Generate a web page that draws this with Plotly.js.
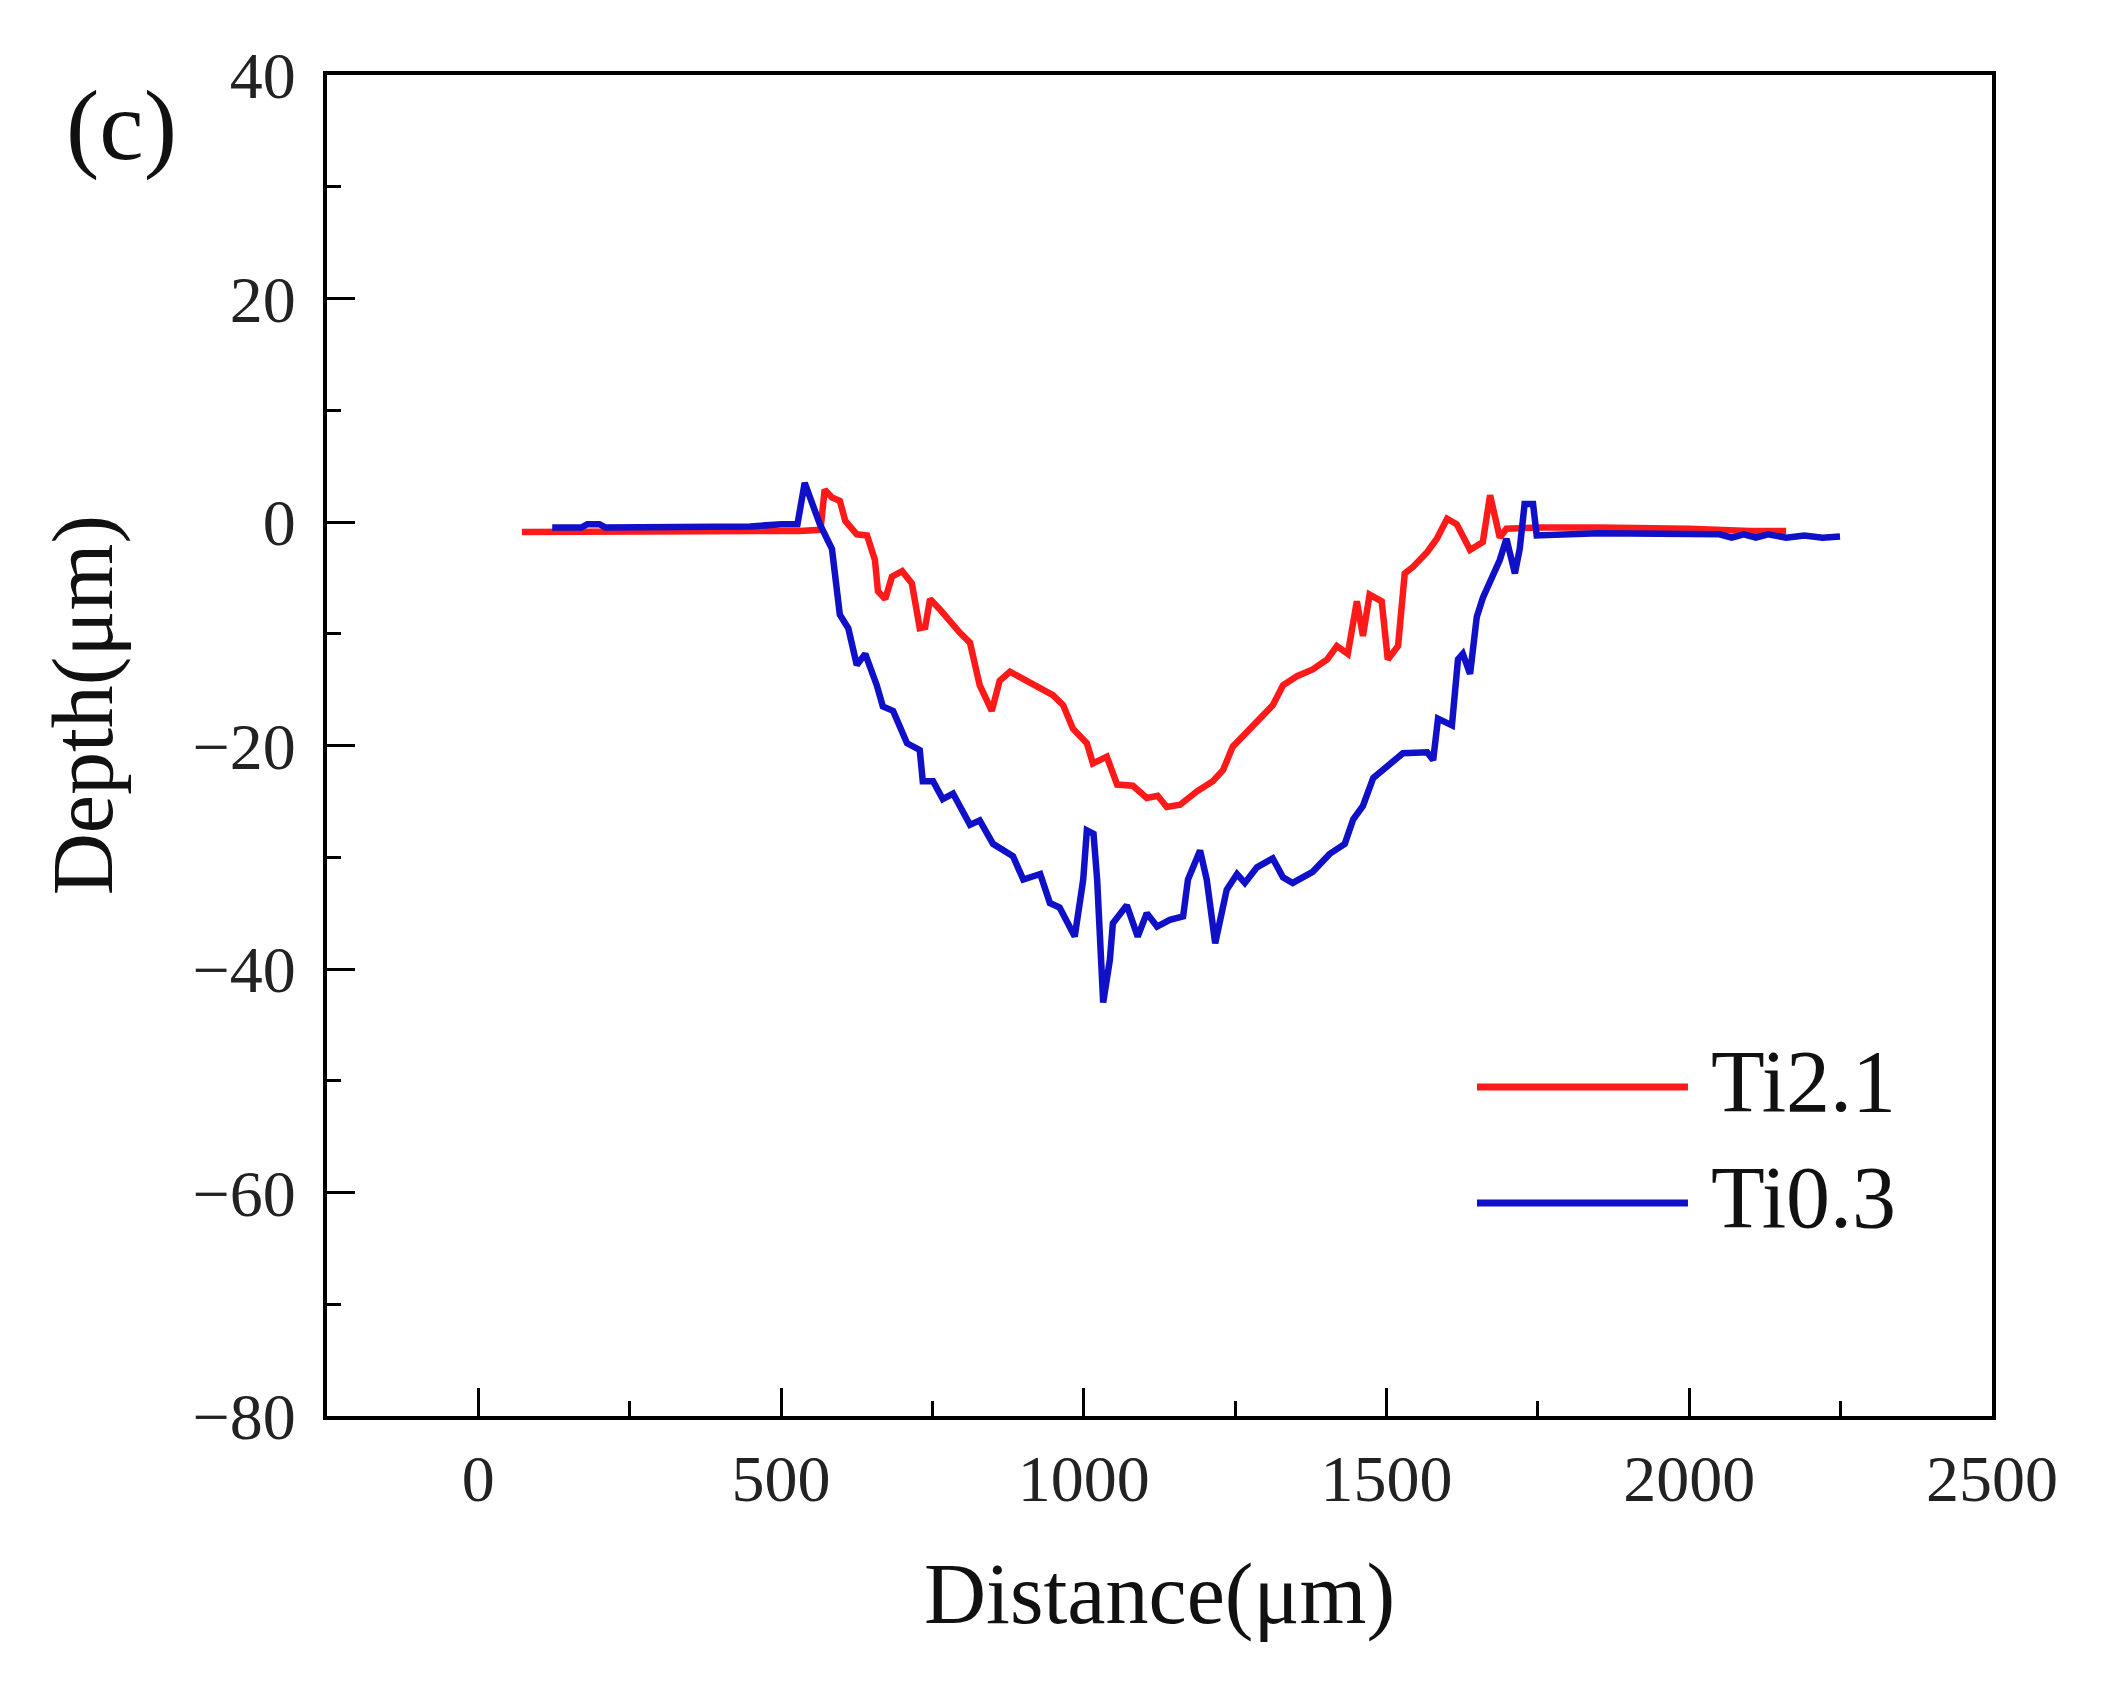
<!DOCTYPE html>
<html>
<head>
<meta charset="utf-8">
<script src="https://cdn.plot.ly/plotly-3.0.1.min.js"></script>
<style>
  html, body { margin: 0; padding: 0; background: #ffffff; }
  #chart { width: 2111px; height: 1697px; }
</style>
</head>
<body>
<div id="chart"></div>
<script>
// ---- Data ----
const seriesNames = ["Ti2.1", "Ti0.3"];
const seriesColors = ["#ff1a1a", "#1010c8"];

const ti21_x = [72,150,250,350,450,530,565,572,584,597,606,625,642,655,660,672,683,700,716,729,738,746,762,779,795,812,828,848,861,878,900,922,949,966,982,1005,1015,1038,1055,1081,1104,1122,1137,1159,1187,1213,1230,1246,1269,1291,1312,1329,1352,1378,1402,1418,1436,1451,1461,1472,1492,1502,1519,1530,1544,1567,1583,1600,1616,1638,1659,1671,1682,1687,1698,1750,1850,1950,2000,2100,2160];
const ti21_y = [-0.9,-0.9,-0.8,-0.8,-0.8,-0.8,-0.7,2.9,2.2,1.9,0.1,-1.1,-1.2,-3.4,-6.2,-6.9,-4.9,-4.4,-5.5,-9.5,-9.4,-6.9,-7.8,-9.0,-9.9,-10.8,-14.6,-16.9,-14.2,-13.4,-14.1,-14.8,-15.5,-16.4,-18.5,-19.8,-21.6,-21.0,-23.5,-23.6,-24.7,-24.5,-25.5,-25.3,-24.1,-23.2,-22.2,-20.1,-18.8,-17.6,-16.4,-14.6,-13.8,-13.2,-12.3,-11.1,-11.8,-7.1,-10.2,-6.5,-7.1,-12.3,-11.1,-4.6,-4.0,-2.7,-1.5,0.3,-0.2,-2.5,-1.8,2.4,0.1,-1.4,-0.6,-0.5,-0.5,-0.5,-0.6,-0.8,-0.8];

const ti03_x = [122,170,180,200,210,300,400,449,500,527,539,564,584,597,611,625,639,658,668,685,708,729,734,751,767,784,812,828,850,883,900,928,944,960,985,999,1005,1016,1022,1027,1032,1043,1048,1071,1089,1104,1121,1142,1164,1172,1192,1203,1217,1236,1253,1266,1286,1312,1329,1345,1378,1406,1431,1445,1461,1478,1506,1527,1567,1577,1585,1608,1618,1626,1638,1649,1659,1676,1687,1698,1712,1720,1728,1742,1748,1850,1950,2050,2070,2090,2110,2130,2160,2190,2220,2249];
const ti03_y = [-0.5,-0.5,-0.2,-0.2,-0.5,-0.5,-0.5,-0.4,-0.2,-0.2,3.5,-0.2,-2.4,-8.3,-9.5,-12.8,-11.8,-14.6,-16.5,-16.9,-19.8,-20.4,-23.2,-23.2,-24.8,-24.3,-27.1,-26.7,-28.8,-29.9,-32.0,-31.5,-34.1,-34.5,-37.1,-32.0,-27.6,-27.9,-32.0,-38.0,-43.0,-39.2,-35.9,-34.3,-37.1,-35.0,-36.2,-35.6,-35.3,-32.0,-29.4,-32.0,-37.7,-32.9,-31.5,-32.3,-30.9,-30.1,-31.8,-32.3,-31.3,-29.7,-28.8,-26.6,-25.4,-22.9,-21.6,-20.7,-20.6,-21.3,-17.6,-18.2,-12.3,-11.8,-13.6,-8.5,-6.8,-4.9,-3.4,-1.5,-4.6,-2.4,1.6,1.6,-1.2,-1.0,-1.0,-1.1,-1.4,-1.1,-1.4,-1.1,-1.4,-1.2,-1.4,-1.3];

const xTickVals = [0, 500, 1000, 1500, 2000, 2500];
const xTickText = ["0", "500", "1000", "1500", "2000", "2500"];
const yTickVals = [-80, -60, -40, -20, 0, 20, 40];
const yTickText = ["\u221280", "\u221260", "\u221240", "\u221220", "0", "20", "40"];
const xRange = [-250, 2500];
const yRange = [-80, 40];
const xTitle = "Distance(\u03bcm)";
const yTitle = "Depth(\u03bcm)";
const panelLabel = "(c)";

// ---- Build chart ----
const FONT = '"Liberation Serif", "Times New Roman", Times, serif';

const traces = [
  { x: ti21_x, y: ti21_y, name: seriesNames[0], mode: "lines", type: "scatter",
    line: { color: seriesColors[0], width: 6.5 } },
  { x: ti03_x, y: ti03_y, name: seriesNames[1], mode: "lines", type: "scatter",
    line: { color: seriesColors[1], width: 6.5 } }
];

// legend drawn as paper-referenced line samples + labels
const legendY = [0.2453, 0.1588];
const shapes = seriesNames.map((n, i) => ({
  type: "line", xref: "paper", yref: "paper",
  x0: 0.6907, x1: 0.8174, y0: legendY[i], y1: legendY[i],
  line: { color: seriesColors[i], width: 7 }
}));
const annotations = seriesNames.map((n, i) => ({
  text: n, xref: "paper", yref: "paper", x: 0.8300, y: legendY[i] + 0.004,
  xanchor: "left", yanchor: "middle", showarrow: false,
  font: { family: FONT, size: 88, color: "#111" }
}));
annotations.push({
  text: panelLabel, xref: "paper", yref: "paper", x: -0.1237, y: 0.9627,
  xanchor: "center", yanchor: "middle", showarrow: false,
  font: { family: FONT, size: 100, color: "#111" }
});
// y-axis title placed as in the reference (slightly above the plot centre)
annotations.push({
  text: yTitle, xref: "paper", yref: "paper", x: -0.1465, y: 0.530,
  xanchor: "center", yanchor: "middle", textangle: -90, showarrow: false,
  font: { family: FONT, size: 86, color: "#111" }
});

const axisCommon = {
  showgrid: false, zeroline: false, showline: true, mirror: true,
  linecolor: "#000", linewidth: 4,
  ticks: "inside", ticklen: 28, tickwidth: 3, tickcolor: "#000",
  tickfont: { family: FONT, size: 66, color: "#222" },
  tickmode: "array", automargin: false
};

const layout = {
  width: 2111, height: 1697,
  margin: { l: 327, r: 119, t: 75, b: 281 },
  paper_bgcolor: "#ffffff", plot_bgcolor: "#ffffff",
  showlegend: false,
  xaxis: Object.assign({}, axisCommon, {
    range: xRange, tickvals: xTickVals, ticktext: xTickText,
    ticklabelstandoff: 2,
    minor: { ticks: "inside", ticklen: 15, tickwidth: 3, tickcolor: "#000", dtick: 250, tick0: 0, showgrid: false },
    title: { text: xTitle, font: { family: FONT, size: 86, color: "#111" }, standoff: 50 }
  }),
  yaxis: Object.assign({}, axisCommon, {
    range: yRange, tickvals: yTickVals, ticktext: yTickText,
    ticklabelstandoff: 14,
    minor: { ticks: "inside", ticklen: 14, tickwidth: 3, tickcolor: "#000", dtick: 10, tick0: 0, showgrid: false }
  }),
  shapes: shapes,
  annotations: annotations
};

Plotly.newPlot("chart", traces, layout, { staticPlot: true, displayModeBar: false });
</script>
</body>
</html>
